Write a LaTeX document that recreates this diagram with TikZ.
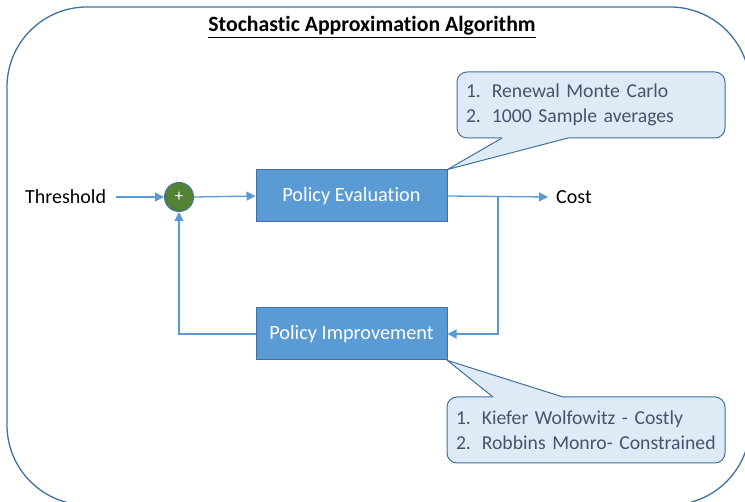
\documentclass[tikz,border=0pt]{standalone}
\usepackage{fontspec}
\setmainfont{Carlito}[Ligatures=NoCommon]
\newfontfamily\callfam{Carlito}[Ligatures=NoCommon, WordSpace=0.9]
\usetikzlibrary{arrows.meta}
\definecolor{boxfill}{HTML}{5B9BD5}
\definecolor{boxline}{HTML}{41719C}
\definecolor{callfill}{HTML}{DEEBF7}
\definecolor{calltext}{HTML}{44546A}
\definecolor{sumfill}{HTML}{548235}
\begin{document}
\begin{tikzpicture}[x=1pt,y=-1pt,
  blockbox/.style={draw=boxline, fill=boxfill, line width=1pt, minimum width=191pt, minimum height=52pt, text=white, font=\fontsize{20.3}{24}\selectfont, inner sep=0pt},
  callout/.style={draw=boxline, fill=callfill, line width=1pt, rounded corners=10pt, text=calltext, font=\callfam\fontsize{19.7}{25}\selectfont, align=left, inner xsep=9pt, inner ysep=0pt, minimum height=66pt},
  conn/.style={draw=boxfill, line width=1.3pt},
  arr/.style={conn, -{Triangle[length=9pt,width=9pt]}},
  lbl/.style={font=\fontsize{20}{24}\selectfont, inner sep=0pt, text=black}
]
\useasboundingbox (0,0) rectangle (745,502);
\clip (0,0) rectangle (745,502);
\fill[white] (0,0) rectangle (745,502);
\draw[boxline, line width=1.3pt, rounded corners=80pt] (7,7) rectangle (750,505);

\node[font=\fontsize{21.8}{26}\selectfont\bfseries, inner sep=0pt] (title) at (372,27) {\underline{Stochastic Approximation Algorithm}};

\node[lbl, anchor=west] (thr) at (25,197) {Threshold};
\node[circle, draw=boxline, fill=sumfill, line width=1pt, minimum size=29pt, inner sep=0pt, text=white, font=\fontsize{17}{17}\selectfont] (sum) at (179,197) {+};
\node[blockbox] (pe) at (351.5,196) {Policy Evaluation};
\node[blockbox] (pi) at (351.5,334) {Policy Improvement};
\node[lbl, anchor=west] (cost) at (556,197) {Cost};
\coordinate (br) at (498,197);

\draw[arr] ([xshift=10pt]thr.east) -- (sum.west);
\draw[arr] (sum.east) -- (pe.west);
\draw[arr] (pe.east) -- ([xshift=-8pt]cost.west);
\draw[arr] (br) -- (br |- pi.east) -- (pi.east);
\draw[arr] (pi.west) -- (sum |- pi.west) -- (sum.south);

% callout 1
\node[callout, text width=250pt] (c1) at (591,105) {\mbox{1.\hspace{0.55em}Renewal Monte Carlo}\\\mbox{2.\hspace{0.55em}1000 Sample averages}};
\fill[callfill] (502,135) -- (502,138) -- (pe.north east) -- (568,138) -- (568,135) -- cycle;
\draw[boxline, line width=1pt] (502,138) -- (pe.north east) -- (568,138);

% callout 2
\node[callout, text width=260pt] (c2) at (586,430) {\mbox{1.\hspace{0.55em}Kiefer Wolfowitz - Costly}\\\mbox{2.\hspace{0.55em}Robbins Monro- Constrained}};
\fill[callfill] (493,400) -- (493,397) -- (pi.south east) -- (563,397) -- (563,400) -- cycle;
\draw[boxline, line width=1pt] (493,397) -- (pi.south east) -- (563,397);
\end{tikzpicture}
\end{document}
